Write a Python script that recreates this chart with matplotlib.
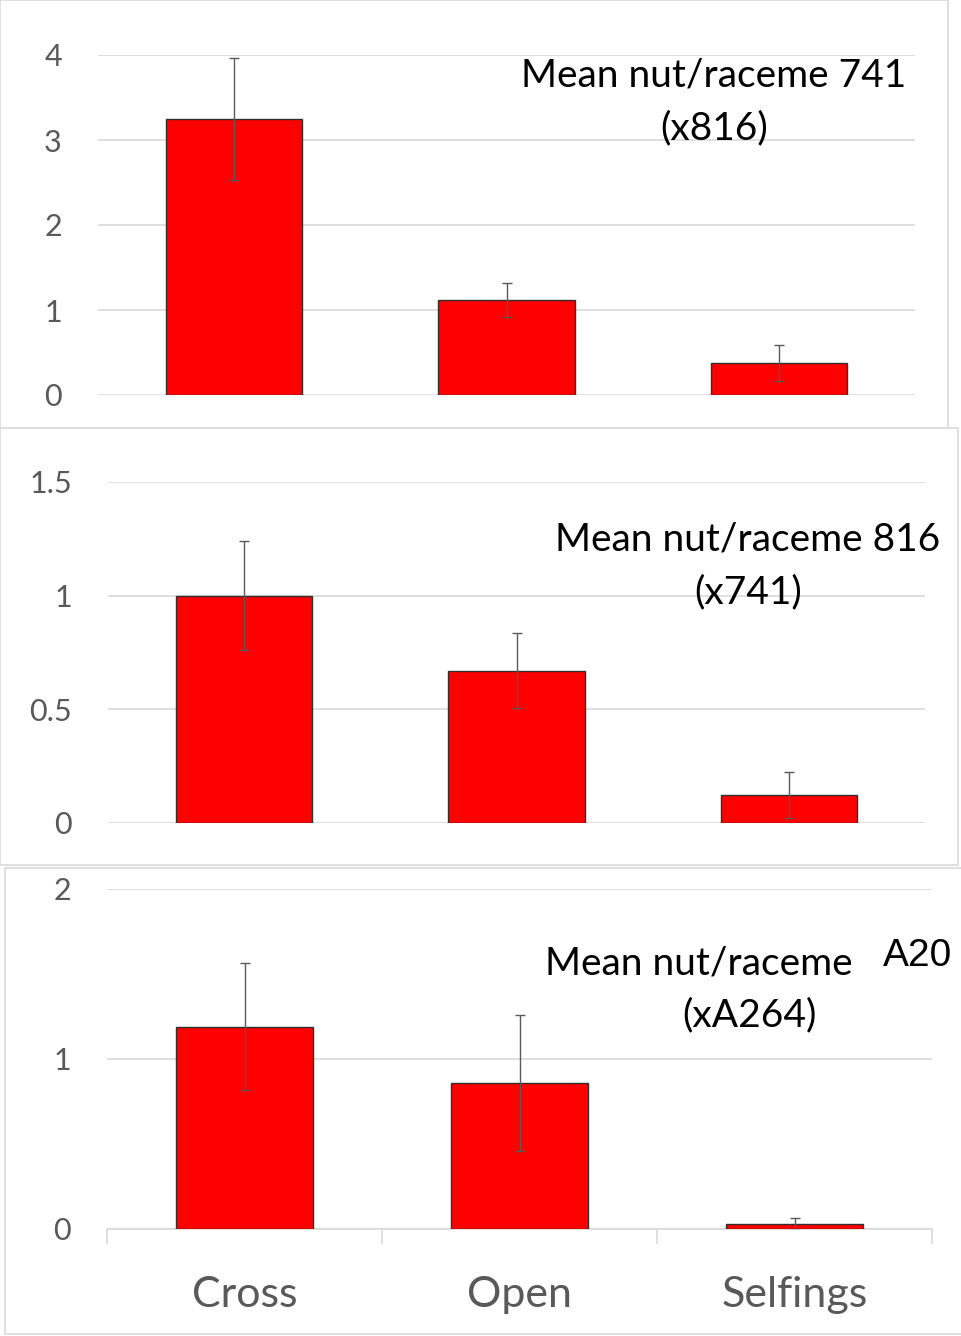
import matplotlib
matplotlib.use('Agg')
import matplotlib.pyplot as plt
from matplotlib.patches import Rectangle

# data
categories = ['Cross', 'Open', 'Selfings']

mean_741 = [3.25, 1.12, 0.38]
err_741 = [0.72, 0.20, 0.21]

mean_816 = [1.00, 0.67, 0.123]
err_816 = [0.24, 0.165, 0.10]

mean_a20 = [1.19, 0.86, 0.03]
err_a20 = [0.375, 0.40, 0.035]

W, H = 961, 1336
FONT = ['Lato', 'DejaVu Sans']
GREY = '#595959'
GRID = '#d9d9d9'

plt.rcParams['font.family'] = FONT

fig = plt.figure(figsize=(W / 100, H / 100), dpi=100)


def fx(x):
    return x / W


def fy(y):
    return 1 - y / H


def frame(x0, y0, x1, y1):
    r = Rectangle((fx(x0), fy(y1)), fx(x1 - x0), (y1 - y0) / H,
                  transform=fig.transFigure, facecolor='white',
                  edgecolor=GRID, linewidth=1.2, zorder=-5)
    fig.patches.append(r)


def panel(x0, x1, ytop, ybot, means, errs, ymax, yticks, ticklabels, xlabels=False):
    ax = fig.add_axes([fx(x0), fy(ybot), fx(x1 - x0), (ybot - ytop) / H])
    ax.set_zorder(5)
    ax.patch.set_alpha(0)
    xs = range(len(categories))
    ax.bar(xs, means, width=0.5, color='#ff0000', edgecolor='#303030',
           linewidth=1, zorder=3)
    ax.errorbar(xs, means, yerr=errs, fmt='none', ecolor=GREY,
                elinewidth=1, capsize=3.5, capthick=1, zorder=4)
    ax.set_xlim(-0.5, 2.5)
    ax.set_ylim(0, ymax)
    ax.set_yticks(yticks)
    ax.set_yticklabels(ticklabels)
    ax.grid(axis='y', color=GRID, linewidth=1.2, zorder=0)
    ax.set_axisbelow(True)
    for s in ['top', 'right', 'left', 'bottom']:
        ax.spines[s].set_visible(False)
    ax.tick_params(axis='y', length=0, pad=26, labelsize=22, labelcolor=GREY)
    if xlabels:
        ax.spines['bottom'].set_visible(True)
        ax.spines['bottom'].set_color(GRID)
        ax.spines['bottom'].set_linewidth(1.2)
        ax.set_xticks([-0.5, 0.5, 1.5, 2.5], minor=True)
        ax.tick_params(axis='x', which='minor', length=11, width=1.2,
                       color=GRID, direction='out')
        ax.set_xticks(list(xs))
        ax.set_xticklabels(categories)
        ax.tick_params(axis='x', which='major', length=0, pad=34,
                       labelsize=31, labelcolor=GREY)
    else:
        ax.set_xticks([])
    return ax


# panel frames (each pasted chart has a light border)
frame(0, 0, 948, 430)
frame(0, 428, 958, 865)
frame(5, 868, 963, 1334)

panel(98, 915, 55, 395, mean_741, err_741, 4, [0, 1, 2, 3, 4],
      ['0', '1', '2', '3', '4'])
panel(108, 925, 482, 823, mean_816, err_816, 1.5, [0, 0.5, 1, 1.5],
      ['0', '0.5', '1', '1.5'])
panel(107, 932, 889, 1229, mean_a20, err_a20, 2, [0, 1, 2],
      ['0', '1', '2'], xlabels=True)

TS = 28
fig.text(fx(714), fy(76), 'Mean nut/raceme 741', ha='center', va='center', fontsize=TS, zorder=10)
fig.text(fx(714), fy(128), '(x816)', ha='center', va='center', fontsize=TS, zorder=10)
fig.text(fx(748), fy(540), 'Mean nut/raceme 816', ha='center', va='center', fontsize=TS, zorder=10)
fig.text(fx(748), fy(592), '(x741)', ha='center', va='center', fontsize=TS, zorder=10)
fig.text(fx(699), fy(963), 'Mean nut/raceme', ha='center', va='center', fontsize=TS, zorder=10)
fig.text(fx(749), fy(1015), '(xA264)', ha='center', va='center', fontsize=TS, zorder=10)
fig.text(fx(883), fy(956), 'A20', ha='left', va='center', fontsize=28, zorder=10,
         family=['Liberation Sans', 'DejaVu Sans'])

plt.savefig('out.png', dpi=100)
